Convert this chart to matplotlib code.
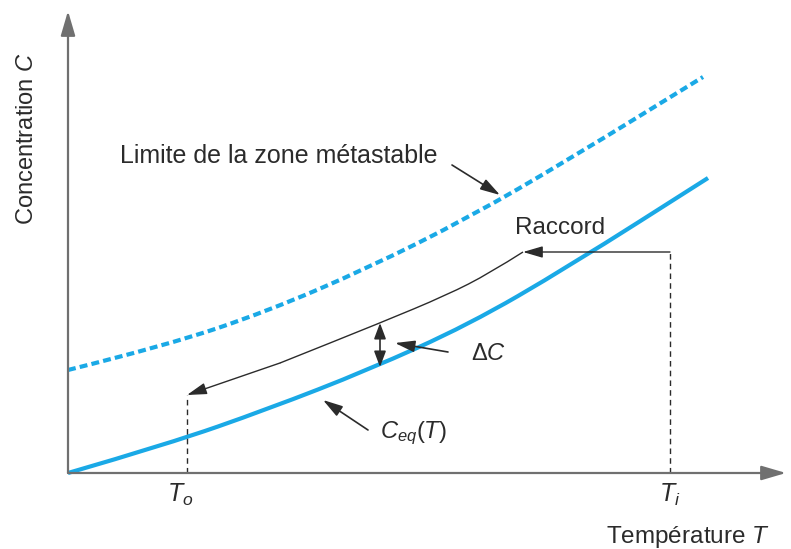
import matplotlib.pyplot as plt
from matplotlib.path import Path
from matplotlib.patches import PathPatch

plt.rcParams['font.family'] = ['Liberation Sans', 'DejaVu Sans']
plt.rcParams['mathtext.fontset'] = 'custom'
plt.rcParams['mathtext.rm'] = 'Liberation Sans'
plt.rcParams['mathtext.it'] = 'Liberation Sans:italic'

# curve values (arbitrary units, origin at the axes corner)
t_eq = [0, 100, 200, 300, 400, 500, 640]
c_eq = [0, 29, 64, 103, 148, 206, 295]

t_meta = [0, 100, 200, 300, 400, 500, 635]
c_meta = [103, 128, 162, 205, 255, 313, 396]

t_racc = [455, 422, 379, 312, 212, 119]
c_racc = [221, 200, 178, 150, 110, 78]

T_o = 118
T_i = 602
C_start = 221

blue = "#1aa9e6"
ink = "#2b2b2b"
axis_col = "#707070"


def smooth(x, y):
    # quadratic bezier through the midpoints, the read points act as control points
    verts = [(x[0], y[0])]
    codes = [Path.MOVETO]
    for i in range(1, len(x) - 1):
        verts += [(x[i], y[i]), ((x[i] + x[i + 1]) / 2, (y[i] + y[i + 1]) / 2)]
        codes += [Path.CURVE3, Path.CURVE3]
    verts.append((x[-1], y[-1]))
    codes.append(Path.LINETO)
    return Path(verts, codes)


def arrow(xy, xytext, lw=1.0, style="-|>,head_length=0.75,head_width=0.22", ms=16, col=ink):
    ax.annotate("", xy=xy, xytext=xytext,
                arrowprops=dict(arrowstyle=style, color=col, lw=lw, mutation_scale=ms,
                                shrinkA=0, shrinkB=0))


fig = plt.figure(figsize=(7.91, 5.49), dpi=100)
ax = fig.add_axes([0, 0, 1, 1])
ax.set_xlim(-68, 723)
ax.set_ylim(-76, 473)
ax.axis("off")

# axes with arrows
arrow((718, 0), (0, 0), lw=1.6, ms=20, col=axis_col)
arrow((0, 462), (0, 0), lw=1.6, ms=20, col=axis_col)

# curves
ax.add_patch(PathPatch(smooth(t_eq, c_eq), fill=False, edgecolor=blue, lw=3, capstyle="butt"))
ax.add_patch(PathPatch(smooth(t_meta, c_meta), fill=False, edgecolor=blue, lw=3,
                       linestyle=(0, (1.9, 1.0))))

# path: Ti -> horizontal -> raccord curve -> To
ax.plot([T_i, T_i], [0, C_start], color=ink, lw=1, dashes=(4, 3))
ax.plot([t_racc[-1], t_racc[-1]], [0, c_racc[-1]], color=ink, lw=1, dashes=(4, 3))
arrow((t_racc[0], C_start), (T_i, C_start))
ax.add_patch(PathPatch(smooth(t_racc[:-1], c_racc[:-1]), fill=False, edgecolor=ink, lw=1))
arrow((t_racc[-1], c_racc[-1]), (t_racc[-2], c_racc[-2]))

# delta C double arrow
arrow((312, 150), (312, 106), lw=1.2, style="<|-|>,head_length=0.8,head_width=0.3", ms=12)

# labels with pointers
arrow((327, 130), (380, 121), lw=1.2)
ax.text(403, 119, "Δ$C$", fontsize=17, color=ink, va="center", ha="left")

arrow((255, 73), (300, 43), lw=1.2)
ax.text(312, 40, r"$C_{eq}\mathit{(T)}$", fontsize=17, color=ink, va="center", ha="left")

arrow((432, 278), (384, 308), lw=1.2)
ax.text(52, 317, "Limite de la zone métastable", fontsize=18, color=ink, va="center", ha="left")

ax.text(447, 245, "Raccord", fontsize=17.5, color=ink, va="center", ha="left")

# axis labels and ticks
ax.text(-41, 334, "Concentration $C$", fontsize=17, color=ink, va="center", ha="center", rotation=90)
ax.text(T_o - 6, -22, r"$T_o$", fontsize=18, color=ink, va="center", ha="center")
ax.text(T_i, -22, r"$T_i$", fontsize=18, color=ink, va="center", ha="center")
ax.text(702, -64, "Température $T$", fontsize=17.5, color=ink, va="center", ha="right")

fig.savefig("out.png", dpi=100)
